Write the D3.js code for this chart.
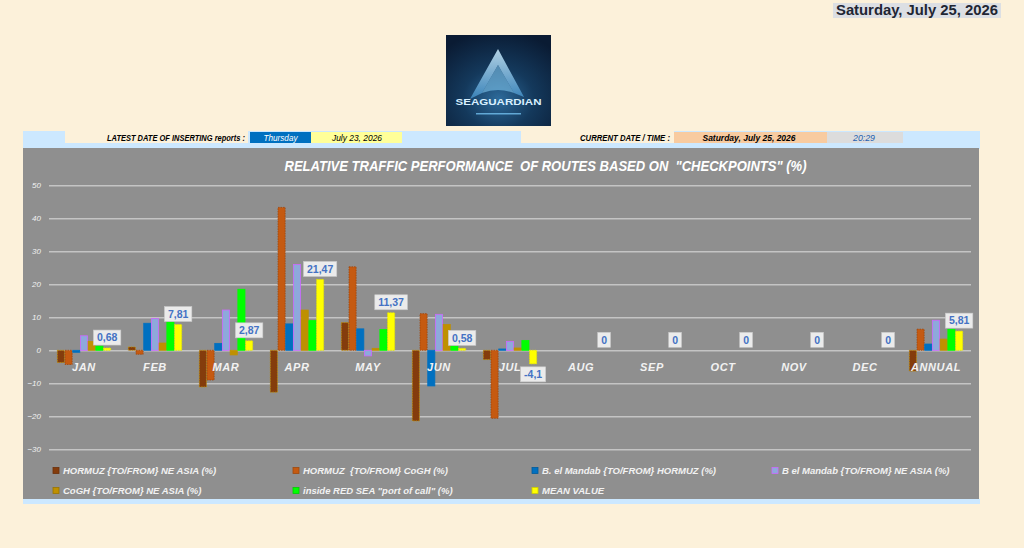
<!DOCTYPE html>
<html><head><meta charset="utf-8">
<script src="https://cdn.jsdelivr.net/npm/d3@7"></script>
<style>
html,body{margin:0;padding:0;background:#FCF1DA;}
svg{display:block;font-family:"Liberation Sans",Arial,sans-serif;}
</style></head>
<body>
<svg id="c" width="1024" height="548"></svg>
<script>
// ---- data ----
const categories = ["JAN","FEB","MAR","APR","MAY","JUN","JUL","AUG","SEP","OCT","NOV","DEC","ANNUAL"];
const seriesNames = [
  "HORMUZ {TO/FROM} NE ASIA (%)",
  "HORMUZ  {TO/FROM} CoGH (%)",
  "B. el Mandab {TO/FROM} HORMUZ (%)",
  "B el Mandab {TO/FROM} NE ASIA (%)",
  "CoGH {TO/FROM} NE ASIA (%)",
  "inside RED SEA \"port of call\" (%)",
  "MEAN VALUE"
];
const hormuzNeAsia   = [-3.7, 1.0, -11.1, -12.7, 8.4, -21.4, -2.8, 0, 0, 0, 0, 0, -6.3];
const hormuzCogh     = [-4.3, -1.2, -9.0, 43.3, 25.3, 11.1, -20.6, 0, 0, 0, 0, 0, 6.4];
const bMandabHormuz  = [-0.6, 8.2, 2.1, 8.0, 6.5, -10.8, 0.4, 0, 0, 0, 0, 0, 1.9];
const bMandabNeAsia  = [4.4, 9.6, 12.2, 26.0, -1.7, 10.9, 2.7, 0, 0, 0, 0, 0, 9.1];
const coghNeAsia     = [2.7, 2.2, -1.4, 12.2, 0.6, 7.8, 0.7, 0, 0, 0, 0, 0, 3.4];
const redSeaPort     = [1.3, 8.6, 18.5, 9.0, 6.3, 1.3, 3.0, 0, 0, 0, 0, 0, 6.4];
const meanValue      = [0.68, 7.81, 2.87, 21.47, 11.37, 0.58, -4.1, 0, 0, 0, 0, 0, 5.81];
const yTicks = [-30, -20, -10, 0, 10, 20, 30, 40, 50];

const seriesValues = [hormuzNeAsia, hormuzCogh, bMandabHormuz, bMandabNeAsia, coghNeAsia, redSeaPort, meanValue];
const fills   = ["#843C0C","#C55A11","#0070C0","#8EA9DB","#BF9000","#00FF00","#FFFF00"];
const strokes = ["#BF8F00","#A0450A","#0070C0","#CC66FF","#BF9000","#00FF00","#E6E600"];
const dashes  = ["1.5,1","1.5,1",null,null,null,null,"1.5,1"];

const svg = d3.select("#c");

// ---- top right date ----
svg.append("rect").attr("x",833).attr("y",3).attr("width",168).attr("height",15).attr("fill","#DCDFE3");
svg.append("text").attr("x",917).attr("y",15).attr("text-anchor","middle")
  .attr("font-size",14).attr("font-weight","bold").attr("fill","#1F2633")
  .attr("textLength",162).attr("lengthAdjust","spacingAndGlyphs")
  .text("Saturday, July 25, 2026");

// ---- logo ----
const defs = svg.append("defs");
const lg = defs.append("radialGradient").attr("id","lg").attr("cx","50%").attr("cy","70%").attr("r","75%");
lg.append("stop").attr("offset","0%").attr("stop-color","#2D6A9A");
lg.append("stop").attr("offset","45%").attr("stop-color","#14395C");
lg.append("stop").attr("offset","100%").attr("stop-color","#0A1B33");
const tg = defs.append("linearGradient").attr("id","tg").attr("x1","0").attr("y1","0").attr("x2","0").attr("y2","1");
tg.append("stop").attr("offset","0%").attr("stop-color","#CFEFFF");
tg.append("stop").attr("offset","100%").attr("stop-color","#3F8CC4");
const logo = svg.append("g").attr("transform","translate(446,35)");
logo.append("rect").attr("width",105).attr("height",91).attr("fill","url(#lg)");
logo.append("path").attr("d","M52,14 L78,62 L68,58 L52,30 L36,58 L24,64 Z").attr("fill","url(#tg)").attr("opacity",0.85);
logo.append("path").attr("d","M52,30 L68,58 Q52,52 36,58 Z").attr("fill","#7FC4EC").attr("opacity",0.6);
logo.append("text").attr("x",52.5).attr("y",70).attr("text-anchor","middle").attr("font-size",9.5)
  .attr("font-weight","bold").attr("fill","#D8F0FF").attr("textLength",86).attr("lengthAdjust","spacingAndGlyphs")
  .text("SEAGUARDIAN");
logo.append("rect").attr("x",30).attr("y",78).attr("width",45).attr("height",1.5).attr("fill","#7FD0FF").attr("opacity",0.7);

// ---- header band ----
svg.append("rect").attr("x",23).attr("y",131).attr("width",957).attr("height",18).attr("fill","#CCE8FF");
svg.append("rect").attr("x",65).attr("y",131).attr("width",183).attr("height",12).attr("fill","#FCF1DA");
svg.append("rect").attr("x",250).attr("y",132).attr("width",61).attr("height",11).attr("fill","#0070C0");
svg.append("rect").attr("x",311).attr("y",132).attr("width",91).attr("height",11).attr("fill","#FFFF99");
svg.append("rect").attr("x",521).attr("y",131).attr("width",153).attr("height",12).attr("fill","#FCF1DA");
svg.append("rect").attr("x",674).attr("y",132).attr("width",153).attr("height",11).attr("fill","#F8CBA0");
svg.append("rect").attr("x",827).attr("y",132).attr("width",76).attr("height",11).attr("fill","#DCDCDC");
function hdr(x, t, w, col, anchor, bold){
  svg.append("text").attr("x",x).attr("y",141).attr("text-anchor",anchor)
    .attr("font-size",8.5).attr("font-style","italic").attr("font-weight",bold?"bold":"normal")
    .attr("fill",col).attr("textLength",w).attr("lengthAdjust","spacingAndGlyphs").text(t);
}
hdr(107,"LATEST DATE OF INSERTING reports :",138,"#000","start",true);
hdr(280.5,"Thursday",34,"#FFFFFF","middle",false);
hdr(357,"July 23, 2026",50,"#000","middle",false);
hdr(580,"CURRENT DATE / TIME :",90,"#000","start",true);
hdr(749,"Saturday, July 25, 2026",93,"#000","middle",true);
hdr(864,"20:29",22,"#1F5FB0","middle",false);

// ---- chart area ----
svg.append("rect").attr("x",23).attr("y",148).attr("width",956).attr("height",351).attr("fill","#8F8F8F");
svg.append("rect").attr("x",23).attr("y",499).attr("width",957).attr("height",5).attr("fill","#CCE8FF");

svg.append("text").attr("x",545.5).attr("y",170.5).attr("text-anchor","middle")
  .attr("font-size",15).attr("font-weight","bold").attr("font-style","italic").attr("fill","#FFFFFF")
  .attr("textLength",522).attr("lengthAdjust","spacingAndGlyphs").attr("xml:space","preserve")
  .text("RELATIVE TRAFFIC PERFORMANCE  OF ROUTES BASED ON  \"CHECKPOINTS\" (%)");

const y = d3.scaleLinear().domain([-30,50]).range([449.3,185.3]);
const x = d3.scaleBand().domain(categories).range([48.5,971.5]).paddingInner(0.24).paddingOuter(0.12);
const xs = d3.scaleBand().domain(d3.range(7)).range([0,x.bandwidth()]).padding(0);

// gridlines + y labels
const yAxis = d3.axisLeft(y).tickValues(yTicks).tickSize(-922).tickPadding(8).tickFormat(d3.format("d"));
const ga = svg.append("g").attr("transform","translate(49,0)").call(yAxis);
ga.select(".domain").remove();
ga.selectAll(".tick line").attr("stroke","#C4C4C4").attr("stroke-width",1.5);
ga.selectAll(".tick text").attr("fill","#F2F2F2").attr("font-size",8).attr("font-style","italic")
  .attr("x",-8).attr("font-family","Liberation Sans, Arial, sans-serif");

// bars
const bars = svg.append("g");
seriesValues.forEach((vals, s) => {
  bars.selectAll(null).data(vals.map((v,i)=>({v, c:categories[i]}))).enter().append("rect")
    .attr("x", d => x(d.c) + xs(s) + 0.3)
    .attr("width", xs.bandwidth() - 0.6)
    .attr("y", d => y(Math.max(0,d.v)))
    .attr("height", d => Math.abs(y(d.v) - y(0)))
    .attr("fill", fills[s])
    .attr("stroke", d => d.v === 0 ? "none" : strokes[s])
    .attr("stroke-width", 0.8)
    .attr("stroke-dasharray", dashes[s]);
});

// category labels (drawn on top)
svg.append("g").selectAll("text").data(categories).enter().append("text")
  .attr("x", d => x(d) + x.bandwidth()/2).attr("y", y(0) + 21)
  .attr("text-anchor","middle").attr("font-size",11).attr("font-weight","bold").attr("font-style","italic")
  .attr("fill","#F2F2F2").attr("letter-spacing",0.6).text(d => d);

// mean value data labels
const fmt = v => String(v).replace(".", ",");
const lbl = svg.append("g");
meanValue.forEach((v,i) => {
  const cx = x(categories[i]) + xs(6) + xs.bandwidth()/2;
  const cy = v < 0 ? y(v) + 10.5 : y(v) - 10.5;
  const g = lbl.append("g");
  const r = g.append("rect").attr("fill","#EBEBEB").attr("stroke","#C8C8C8").attr("stroke-width",0.6);
  const t = g.append("text").attr("x",cx).attr("y",cy+3.8).attr("text-anchor","middle")
    .attr("font-size",10.5).attr("font-weight","bold").attr("fill","#4472C4").text(fmt(v));
  const w = t.node().getComputedTextLength() + 7;
  r.attr("x",cx - w/2).attr("y",cy - 7.5).attr("width",w).attr("height",15);
});

// legend
const legPos = [[53,471],[293,471],[532,471],[772,471],[53,491],[293,491],[532,491]];
const leg = svg.append("g");
seriesNames.forEach((n,s) => {
  const [lx,ly] = legPos[s];
  leg.append("rect").attr("x",lx).attr("y",ly-3.5).attr("width",6).attr("height",6)
    .attr("fill",fills[s]).attr("stroke", s===3 ? "#CC66FF" : d3.color(fills[s]).darker(0.6)).attr("stroke-width",0.8);
  leg.append("text").attr("x",lx+10).attr("y",ly+3).attr("font-size",9.5).attr("font-weight","bold")
    .attr("font-style","italic").attr("fill","#F2F2F2").attr("xml:space","preserve").text(n);
});
</script>
</body></html>
